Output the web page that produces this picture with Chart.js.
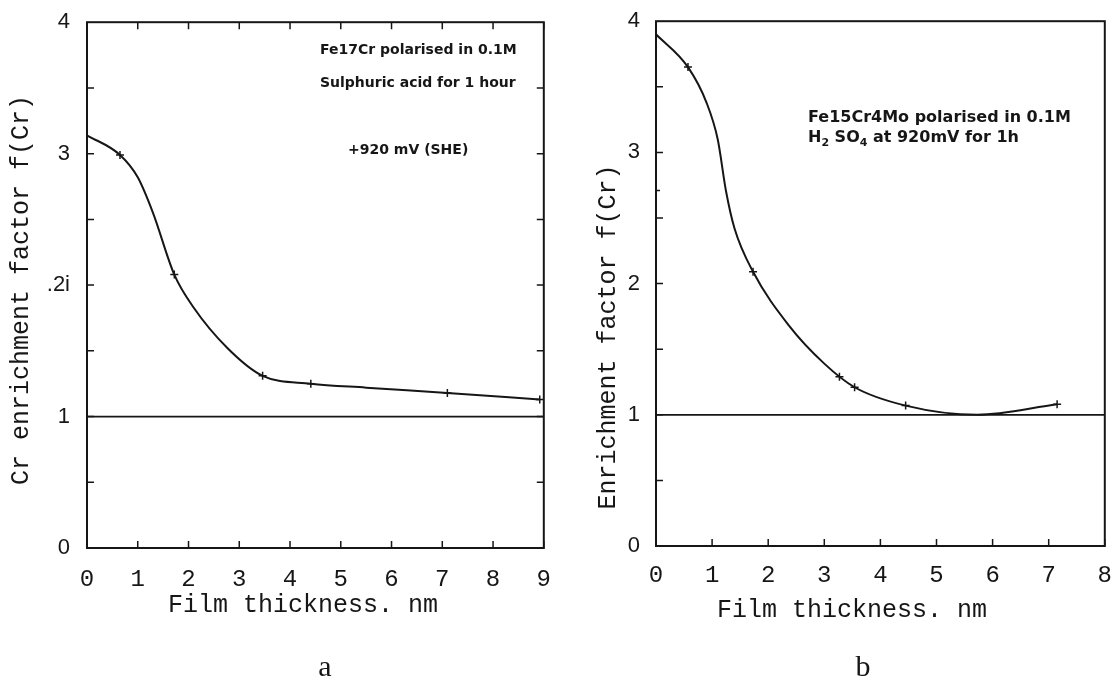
<!DOCTYPE html>
<html>
<head>
<meta charset="utf-8">
<script src="https://cdn.jsdelivr.net/npm/chart.js@4.4.1/dist/chart.umd.min.js"></script>
<style>
  html, body { margin: 0; padding: 0; background: #fff; }
  #wrap { position: relative; width: 1119px; height: 692px; }
  .panel { position: absolute; top: 0; height: 692px; }
  #panelA { left: 0; width: 560px; }
  #panelB { left: 560px; width: 559px; }
</style>
</head>
<body>
<div id="wrap">
  <div class="panel" id="panelA"><canvas id="chartA"></canvas></div>
  <div class="panel" id="panelB"><canvas id="chartB"></canvas></div>
</div>
<script>
// --- data ---
// panel a : Fe17Cr
const curveAX = [0, 0.65, 1.00, 1.30, 1.72, 2.10, 2.77, 3.46, 4.41, 5.50, 7.10, 8.92];
const curveAY = [3.14, 2.99, 2.82, 2.55, 2.08, 1.83, 1.52, 1.31, 1.25, 1.22, 1.18, 1.13];
const pointsAX = [0.65, 1.72, 3.46, 4.41, 7.10, 8.92];
const pointsAY = [2.99, 2.08, 1.31, 1.25, 1.18, 1.13];
const refAX = [0, 9];
const refAY = [1, 1];
const xTicksA = [0, 1, 2, 3, 4, 5, 6, 7, 8, 9];

// panel b : Fe15Cr4Mo
const curveBX = [0, 0.57, 0.90, 1.10, 1.25, 1.40, 1.73, 2.37, 3.00, 3.54, 4.45, 5.73, 7.15];
const curveBY = [3.90, 3.65, 3.38, 3.10, 2.70, 2.42, 2.09, 1.68, 1.39, 1.21, 1.07, 1.00, 1.08];
const pointsBX = [0, 0.57, 1.73, 3.27, 3.54, 4.45, 7.15];
const pointsBY = [2.71, 3.65, 2.09, 1.29, 1.21, 1.07, 1.08];
const refBX = [0, 8];
const refBY = [1, 1];
const xTicksB = [0, 1, 2, 3, 4, 5, 6, 7, 8];

const yTicks = [0, 1, 2, 3, 4];
const yTickLabelsA = ['0', '1', '.2i', '3', '4'];
const yTickLabelsB = ['0', '1', '2', '3', '4'];
const yMinor = [0.5, 1, 1.5, 2, 2.5, 3, 3.5];

const INK = '#161616';

function toXY(xs, ys) {
    return xs.map((x, i) => ({ x: x, y: ys[i] }));
}

// draws text made of pieces, some of them subscripts
function drawParts(ctx, parts, x, y, size) {
    let cx = x;
    parts.forEach(p => {
        const s = p.sub ? Math.round(size * 0.68) : size;
        ctx.font = `bold ${s}px "DejaVu Sans"`;
        ctx.fillText(p.t, cx, p.sub ? y + size * 0.3 : y);
        cx += ctx.measureText(p.t).width;
    });
}

// frame, inward ticks, titles and notes
const framePlugin = {
    id: 'frame',
    afterDraw(chart, args, o) {
        const { ctx, chartArea: a, scales } = chart;
        const sx = scales.x, sy = scales.y;
        ctx.save();
        ctx.strokeStyle = INK;
        ctx.fillStyle = INK;
        ctx.lineWidth = 2;
        ctx.strokeRect(a.left, a.top, a.right - a.left, a.bottom - a.top);

        ctx.lineWidth = 1.5;
        const tl = 7;
        ctx.beginPath();
        o.yMinor.forEach(v => {
            const py = sy.getPixelForValue(v);
            ctx.moveTo(a.left, py); ctx.lineTo(a.left + tl, py);
            if (o.rightTicks) { ctx.moveTo(a.right, py); ctx.lineTo(a.right - tl, py); }
        });
        o.xTicks.forEach(v => {
            const px = sx.getPixelForValue(v);
            ctx.moveTo(px, a.bottom); ctx.lineTo(px, a.bottom - tl);
            if (o.topTicks) { ctx.moveTo(px, a.top); ctx.lineTo(px, a.top + tl); }
        });
        ctx.stroke();

        // axis titles
        ctx.textAlign = 'center';
        ctx.textBaseline = 'middle';
        ctx.font = '25px "Liberation Mono"';
        ctx.fillText(o.xTitle, o.xTitlePos[0], o.xTitlePos[1]);
        ctx.save();
        ctx.translate(o.yTitlePos[0], o.yTitlePos[1]);
        ctx.rotate(-Math.PI / 2);
        ctx.fillText(o.yTitle, 0, 0);
        ctx.restore();

        // panel letter
        ctx.font = '30px "Liberation Serif"';
        ctx.fillText(o.letter, o.letterPos[0], o.letterPos[1]);

        // notes inside the plot
        ctx.textAlign = 'left';
        o.notes.forEach(n => drawParts(ctx, n.parts, n.x, n.y, o.noteSize));
        ctx.restore();
    }
};

function makeChart(id, cfg) {
    return new Chart(document.getElementById(id), {
        type: 'scatter',
        data: {
            datasets: [
                {
                    data: toXY(cfg.curveX, cfg.curveY),
                    showLine: true,
                    borderColor: INK,
                    borderWidth: 2,
                    pointRadius: 0,
                    cubicInterpolationMode: 'monotone'
                },
                {
                    data: toXY(cfg.pointsX, cfg.pointsY),
                    showLine: false,
                    pointStyle: 'cross',
                    pointRadius: 4,
                    borderColor: INK,
                    borderWidth: 1.5
                },
                {
                    data: toXY(cfg.refX, cfg.refY),
                    showLine: true,
                    borderColor: INK,
                    borderWidth: 1.8,
                    pointRadius: 0
                }
            ]
        },
        options: {
            responsive: true,
            maintainAspectRatio: false,
            animation: false,
            layout: { padding: cfg.padding },
            scales: {
                x: {
                    type: 'linear',
                    min: 0,
                    max: cfg.xMax,
                    afterBuildTicks: s => { s.ticks = cfg.xTicks.map(v => ({ value: v })); },
                    afterFit: s => { s.height = cfg.xHeight; },
                    grid: { display: false },
                    border: { display: false },
                    ticks: {
                        color: INK,
                        padding: cfg.xPad,
                        maxRotation: 0,
                        font: { family: 'Liberation Mono', size: 24 }
                    }
                },
                y: {
                    type: 'linear',
                    min: 0,
                    max: 4,
                    afterBuildTicks: s => { s.ticks = yTicks.map(v => ({ value: v })); },
                    afterFit: s => { s.width = cfg.yWidth; },
                    grid: { display: false },
                    border: { display: false },
                    ticks: {
                        color: INK,
                        padding: cfg.yPad,
                        font: { family: 'Liberation Sans', size: 22 },
                        callback: (v) => cfg.yLabels[yTicks.indexOf(v)]
                    }
                }
            },
            plugins: {
                legend: { display: false },
                tooltip: { enabled: false },
                frame: cfg.frame
            }
        },
        plugins: [framePlugin]
    });
}

makeChart('chartA', {
    curveX: curveAX, curveY: curveAY,
    pointsX: pointsAX, pointsY: pointsAY,
    refX: refAX, refY: refAY,
    xMax: 9, xTicks: xTicksA, yLabels: yTickLabelsA,
    padding: { top: 18, right: 13, left: 0, bottom: 0 },
    xHeight: 144, yWidth: 87, xPad: 9, yPad: 9,
    frame: {
        yMinor: yMinor, xTicks: xTicksA,
        rightTicks: true, topTicks: true,
        xTitle: 'Film thickness. nm', xTitlePos: [303, 605],
        yTitle: 'Cr enrichment factor f(Cr)', yTitlePos: [21, 290],
        letter: 'a', letterPos: [325, 668],
        noteSize: 14,
        notes: [
            { x: 320, y: 50, parts: [{ t: 'Fe17Cr polarised in 0.1M' }] },
            { x: 320, y: 83, parts: [{ t: 'Sulphuric acid for 1 hour' }] },
            { x: 348, y: 150, parts: [{ t: '+920 mV (SHE)' }] }
        ]
    }
});

makeChart('chartB', {
    curveX: curveBX, curveY: curveBY,
    pointsX: pointsBX, pointsY: pointsBY,
    refX: refBX, refY: refBY,
    xMax: 8, xTicks: xTicksB, yLabels: yTickLabelsB,
    padding: { top: 16, right: 11, left: 0, bottom: 0 },
    xHeight: 146, yWidth: 96, xPad: 7, yPad: 8,
    frame: {
        yMinor: yMinor, xTicks: xTicksB,
        rightTicks: false, topTicks: false,
        xTitle: 'Film thickness. nm', xTitlePos: [292, 610],
        yTitle: 'Enrichment factor f(Cr)', yTitlePos: [48, 337],
        letter: 'b', letterPos: [303, 668],
        noteSize: 16,
        notes: [
            { x: 248, y: 118, parts: [{ t: 'Fe15Cr4Mo polarised in 0.1M' }] },
            { x: 248, y: 138, parts: [
                { t: 'H' }, { t: '2', sub: true }, { t: ' SO' }, { t: '4', sub: true },
                { t: ' at 920mV for 1h' }
            ] }
        ]
    }
});
</script>
</body>
</html>
